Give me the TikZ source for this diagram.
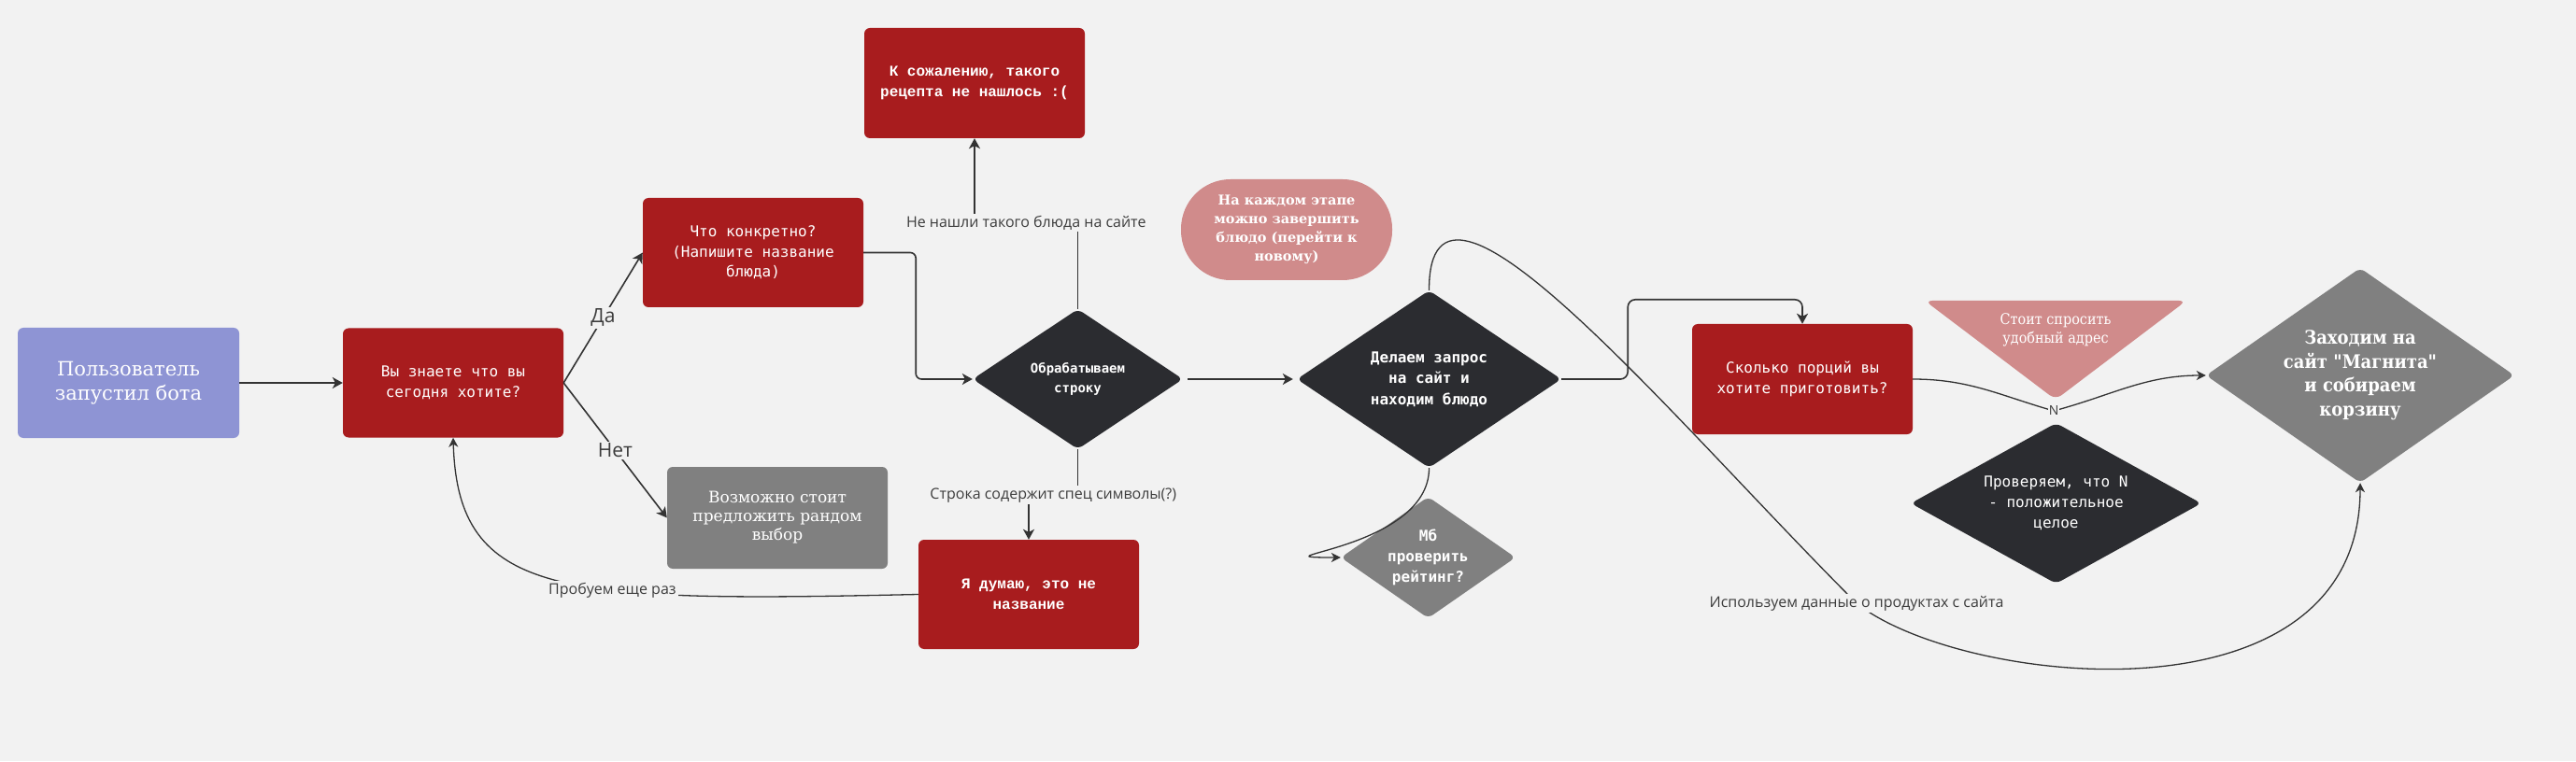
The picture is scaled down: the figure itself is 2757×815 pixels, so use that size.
\documentclass[tikz,border=0pt]{standalone}
\usepackage{fontspec}
\usepackage{tikz}
\usetikzlibrary{shapes.geometric,arrows.meta}
\newfontfamily\slabfont{DejaVu Serif}
\newfontfamily\slabnarrow[FakeStretch=0.9]{DejaVu Serif}
\newfontfamily\codefont{DejaVu Sans Mono}
\newfontfamily\courfont{Liberation Mono}
\newfontfamily\lblfont{Open Sans}
\definecolor{bgcol}{HTML}{F2F2F2}
\definecolor{boxred}{HTML}{A81C1E}
\definecolor{darkdia}{HTML}{2B2C30}
\definecolor{greybox}{HTML}{808080}
\definecolor{pinkbox}{HTML}{D08B8B}
\definecolor{lavender}{HTML}{8E94D4}
\definecolor{linecol}{HTML}{333333}
\definecolor{lblcol}{HTML}{3C3C3C}

\begin{document}
\begin{tikzpicture}[x=1pt, y=1pt,
    card/.style={rectangle, rounded corners=6pt, inner sep=0pt, minimum width=236pt, minimum height=117pt, align=center, text=white},
    rhomb/.style={diamond, rounded corners=6pt, inner sep=0pt, align=center, text=white},
    monotxt/.style={font=\codefont\fontsize{16}{21.5}\selectfont},
    courtxt/.style={font=\courfont\fontsize{16}{22}\bfseries},
    link/.style={draw=linecol, line width=1.6pt, -{Stealth[length=11pt,width=12pt,inset=3pt]}},
    curve/.style={draw=linecol, line width=1.3pt, -{Stealth[length=10pt,width=10pt,inset=3pt]}},
    lbl/.style={fill=bgcol, text=lblcol, inner sep=2pt, font=\lblfont\fontsize{16}{19}\selectfont}]
    \fill[bgcol] (0,0) rectangle (2757,815);

    \node[card, fill=lavender, minimum width=237pt, minimum height=118pt, font=\slabfont\fontsize{21}{26}\selectfont] (user) at (137.5,405) {Пользователь\\запустил бота};
    \node[card, fill=boxred, monotxt] (know) at (485,405) {Вы знаете что вы\\сегодня хотите?};
    \node[card, fill=boxred, monotxt] (what) at (806,544.5) {Что конкретно?\\(Напишите название\\блюда)};
    \node[card, fill=greybox, minimum height=109pt, font=\slabfont\fontsize{17}{20}\selectfont] (rand) at (832,260.5) {Возможно стоит\\предложить рандом\\выбор};
    \node[card, fill=boxred, minimum height=118pt, courtxt] (sorry) at (1043,726) {К сожалению, такого\\рецепта не нашлось :(};
    \node[rhomb, aspect=1.5, fill=darkdia, minimum width=225pt, minimum height=150pt, font=\codefont\fontsize{14}{21}\bfseries] (parse) at (1153.5,409) {Обрабатываем\\строку};
    \node[card, fill=boxred, courtxt] (notname) at (1101,178.5) {Я думаю, это не\\название};
    \node[rectangle, rounded corners=53pt, fill=pinkbox, minimum width=226pt, minimum height=108pt, inner sep=0pt, align=center, text=white, font=\slabfont\fontsize{14.5}{20}\bfseries] (note) at (1377,569) {На каждом этапе\\можно завершить\\блюдо (перейти к\\новому)};
    \node[rhomb, aspect=1.49, fill=darkdia, minimum width=283pt, minimum height=190pt, font=\codefont\fontsize{16}{22.5}\bfseries] (query) at (1529.5,409) {Делаем запрос\\на сайт и\\находим блюдо};
    \node[rhomb, aspect=1.44, fill=greybox, minimum width=187pt, minimum height=130pt, font=\codefont\fontsize{16}{22}\bfseries] (rating) at (1528.5,218) {Мб\\проверить\\рейтинг?};
    \node[card, fill=boxred, minimum height=118pt, monotxt] (portions) at (1929,409) {Сколько порций вы\\хотите приготовить?};
    \fill[pinkbox, rounded corners=8pt] (2060,493) -- (2340,493) -- (2200,387) -- cycle;
    \node[align=center, text=white, font=\slabnarrow\fontsize{16}{20}\selectfont] (addr) at (2200,462) {Стоит спросить\\удобный адрес};
    \node[rhomb, aspect=1.81, fill=darkdia, minimum width=311pt, minimum height=172pt, font=\codefont\fontsize{16}{22}\selectfont] (check) at (2200.5,276) {Проверяем, что N\\- положительное\\целое};
    \node[rhomb, aspect=1.43, fill=greybox, minimum width=330pt, minimum height=230pt, font=\slabnarrow\fontsize{20}{25.5}\bfseries] (shop) at (2526,413) {Заходим на\\сайт "Магнита"\\и собираем\\корзину};

    \draw[link] (user) -- (know);
    \draw[link] (know.east) -- node[lbl, font=\lblfont\fontsize{21}{24}\selectfont] {Да} (what.west);
    \draw[link] (know.east) -- node[lbl, font=\lblfont\fontsize{21}{24}\selectfont] {Нет} (rand.west);
    \draw[link, rounded corners=6pt] (what.east) -- ++(56,0) |- (parse.west);
    \draw[link] (parse.north) -- ++(0,92) -| node[lbl, pos=0.25] {Не нашли такого блюда на сайте} (sorry.south);
    \draw[link] (parse.south) -- ++(0,-49) -| node[lbl, pos=0.25] {Строка содержит спец символы(?)} (notname.north);
    \draw[curve] (notname.west) .. controls (600,170) and (490,175) .. node[lbl, pos=0.38] {Пробуем еще раз} (know.south);
    \draw[link, shorten <=5pt, shorten >=4pt] (parse.east) -- (query.west);
    \draw[curve] (query.south) .. controls +(0,-89) and +(-105,0) .. (rating.west);
    \draw[link, rounded corners=8pt] (query.east) -- ++(71,0) |- ([yshift=26pt]portions.north) -- (portions.north);
    \coordinate (prodmid) at (1987,169);
    \draw[curve] (query.north) .. controls (1529,685) and (1787,369) .. (prodmid) .. controls (2097,81) and (2526,32) .. (shop.south);
    \node[lbl] (prodlbl) at (prodmid) {Используем данные о продуктах с сайта};
    \coordinate (nmid) at (2198,375);
    \draw[curve] (portions.east) to[out=0,in=164] (nmid) to[out=15,in=180] (shop.west);
    \node[lbl, inner sep=1pt, font=\lblfont\fontsize{14}{16}\selectfont] (nlbl) at (nmid) {N};
\end{tikzpicture}
\end{document}
